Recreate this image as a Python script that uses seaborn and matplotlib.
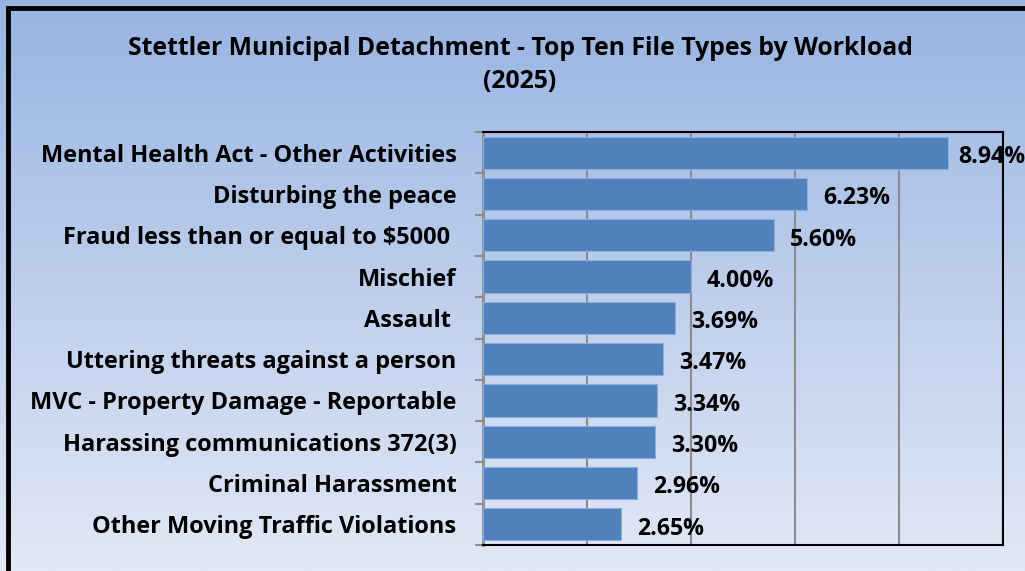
import numpy as np
import pandas as pd
import matplotlib
matplotlib.use("Agg")
import matplotlib.pyplot as plt
import seaborn as sns
from matplotlib.ticker import MultipleLocator
from matplotlib.patches import Rectangle

categories = [
    "Mental Health Act - Other Activities",
    "Disturbing the peace",
    "Fraud less than or equal to $5000 ",
    "Mischief",
    "Assault ",
    "Uttering threats against a person",
    "MVC - Property Damage - Reportable",
    "Harassing communications 372(3)",
    "Criminal Harassment",
    "Other Moving Traffic Violations",
]
values = [8.94, 6.23, 5.60, 4.00, 3.69, 3.47, 3.34, 3.30, 2.96, 2.65]
title = "Stettler Municipal Detachment - Top Ten File Types by Workload\n(2025)"

df = pd.DataFrame({"category": categories, "value": values})

sns.set_theme(style="white")
plt.rcParams["font.family"] = ["Open Sans", "DejaVu Sans"]

W, H = 1025, 571
fig = plt.figure(figsize=(W / 100, H / 100), dpi=100)

# gradient background
bg = fig.add_axes([0, 0, 1, 1], zorder=0)
top = np.array([152, 180, 226]) / 255
bot = np.array([226, 232, 246]) / 255
t = np.linspace(0, 1, 256)[:, None]
grad = top[None, :] * (1 - t) + bot[None, :] * t
bg.imshow(grad[:, None, :], aspect="auto", extent=[0, 1, 0, 1], origin="upper")
bg.set_axis_off()

# outer border (extends beyond the right/bottom edges)
fig.patches.append(Rectangle((7.5 / W, -0.1), 1.2, 1.1 - 7.5 / H, transform=fig.transFigure,
                             fill=False, edgecolor="black", linewidth=3.5, zorder=5))

ax = fig.add_axes([483 / W, 1 - 545 / H, (1003 - 483) / W, (545 - 132) / H], zorder=2)
ax.patch.set_alpha(0)

sns.barplot(data=df, x="value", y="category", orient="h", color="#4F81BD",
            saturation=1, width=0.78, edgecolor="#8AAEDB", linewidth=0.8, ax=ax, zorder=3)

ax.set_xlim(0, 10)
ax.xaxis.set_major_locator(MultipleLocator(2))
ax.grid(axis="x", color="#8C8C8C", linewidth=1.5, zorder=1)
ax.set_axisbelow(True)
ax.set_xticklabels([])
ax.tick_params(axis="x", length=0)
ax.set_xlabel("")
ax.set_ylabel("")

# category boundary ticks
n = len(categories)
ax.set_yticks(np.arange(-0.5, n, 1), minor=True)
ax.tick_params(axis="y", which="minor", length=6, width=1.5, color="#8C8C8C", left=True)
ax.tick_params(axis="y", which="major", length=0, pad=19, labelsize=16.9, labelcolor="black")
for lab in ax.get_yticklabels():
    lab.set_fontweight("bold")

for s in ["top", "right", "bottom"]:
    ax.spines[s].set_color("black")
    ax.spines[s].set_linewidth(1.5)
ax.spines["left"].set_color("#8C8C8C")
ax.spines["left"].set_linewidth(2)

for i, v in enumerate(values):
    xpos = v + 0.31 if v + 0.31 < 9.0 else v + 0.19
    ax.text(xpos, i + 0.25, f"{v:.2f}%", va="baseline", ha="left", fontsize=16.7,
            fontweight="bold", color="black", clip_on=False, zorder=6)

fig.text(520 / W, 1 - 65 / H, title, ha="center", va="center", fontsize=17.8,
         fontweight="bold", color="black", linespacing=1.42)

fig.savefig("out.png", dpi=100)
